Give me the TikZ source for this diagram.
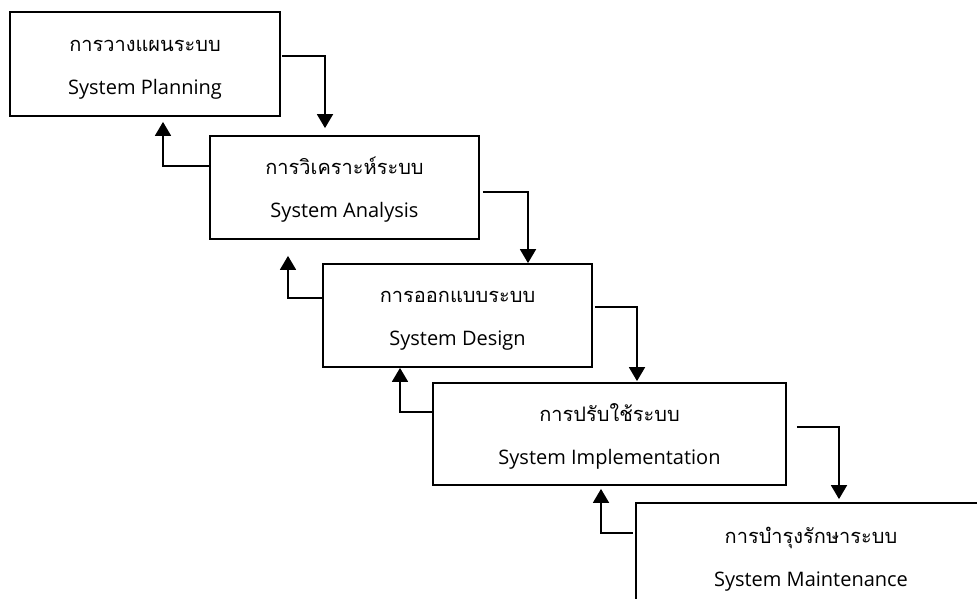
\documentclass[tikz,border=0pt]{standalone}
\usepackage{fontspec}
\setmainfont{Open Sans}
\newfontfamily\thaifont[Script=Thai]{Loma}
\usetikzlibrary{arrows.meta,calc}
\newcommand{\boxtext}[2]{\raisebox{-6pt}{\begin{tabular}{@{}c@{}}{\thaifont #1}\\#2\end{tabular}}}
\begin{document}
\begin{tikzpicture}[x=1pt,y=-1pt,
  box/.style={draw, line width=1.8pt, rectangle, inner sep=0pt, align=center,
    font=\fontsize{20}{43}\selectfont},
  arr/.style={line width=1.8pt, -{Triangle[width=16pt,length=14pt]}}]
\clip (0,0) rectangle (977,598);
\fill[white] (0,0) rectangle (977,598);
\node[box, minimum width=270pt, minimum height=104pt] (b1) at (145,64)
  {\boxtext{การวางแผนระบบ}{System Planning}};
\node[box, minimum width=269pt, minimum height=103pt] (b2) at (344.5,187.5)
  {\boxtext{การวิเคราะห์ระบบ}{System Analysis}};
\node[box, minimum width=269pt, minimum height=103pt] (b3) at (457.5,315.5)
  {\boxtext{การออกแบบระบบ}{System Design}};
\node[box, minimum width=353pt, minimum height=102pt] (b4) at (609.5,434)
  {\boxtext{การปรับใช้ระบบ}{System Implementation}};
\node[box, minimum width=350pt, minimum height=106pt] (b5) at (811,556)
  {\boxtext{การบำรุงรักษาระบบ}{System Maintenance}};
% forward connectors
\draw[arr] ($(b1.east)+(1,-8)$) -| ($(b2.north)+(-19.5,-7)$);
\draw[arr] ($(b2.east)+(3,4.5)$) -| ($(b3.north)+(70.5,0)$);
\draw[arr] ($(b3.east)+(2,-8.5)$) -| ($(b4.north)+(27.5,-1)$);
\draw[arr] ($(b4.east)+(10,-7)$) -| ($(b5.north)+(28,-3)$);
% backward connectors
\draw[arr] ($(b2.west)+(0,-21.5)$) -| ($(b1.south)+(18,5)$);
\draw[arr] ($(b3.west)+(0,-17.5)$) -| ($(b2.south)+(-56.5,16)$);
\draw[arr] ($(b4.west)+(0,-22)$) -| ($(b3.south)+(-57.5,0)$);
\draw[arr] ($(b5.west)+(-2,-23)$) -| ($(b4.south)+(-8.5,3)$);
\end{tikzpicture}
\end{document}
